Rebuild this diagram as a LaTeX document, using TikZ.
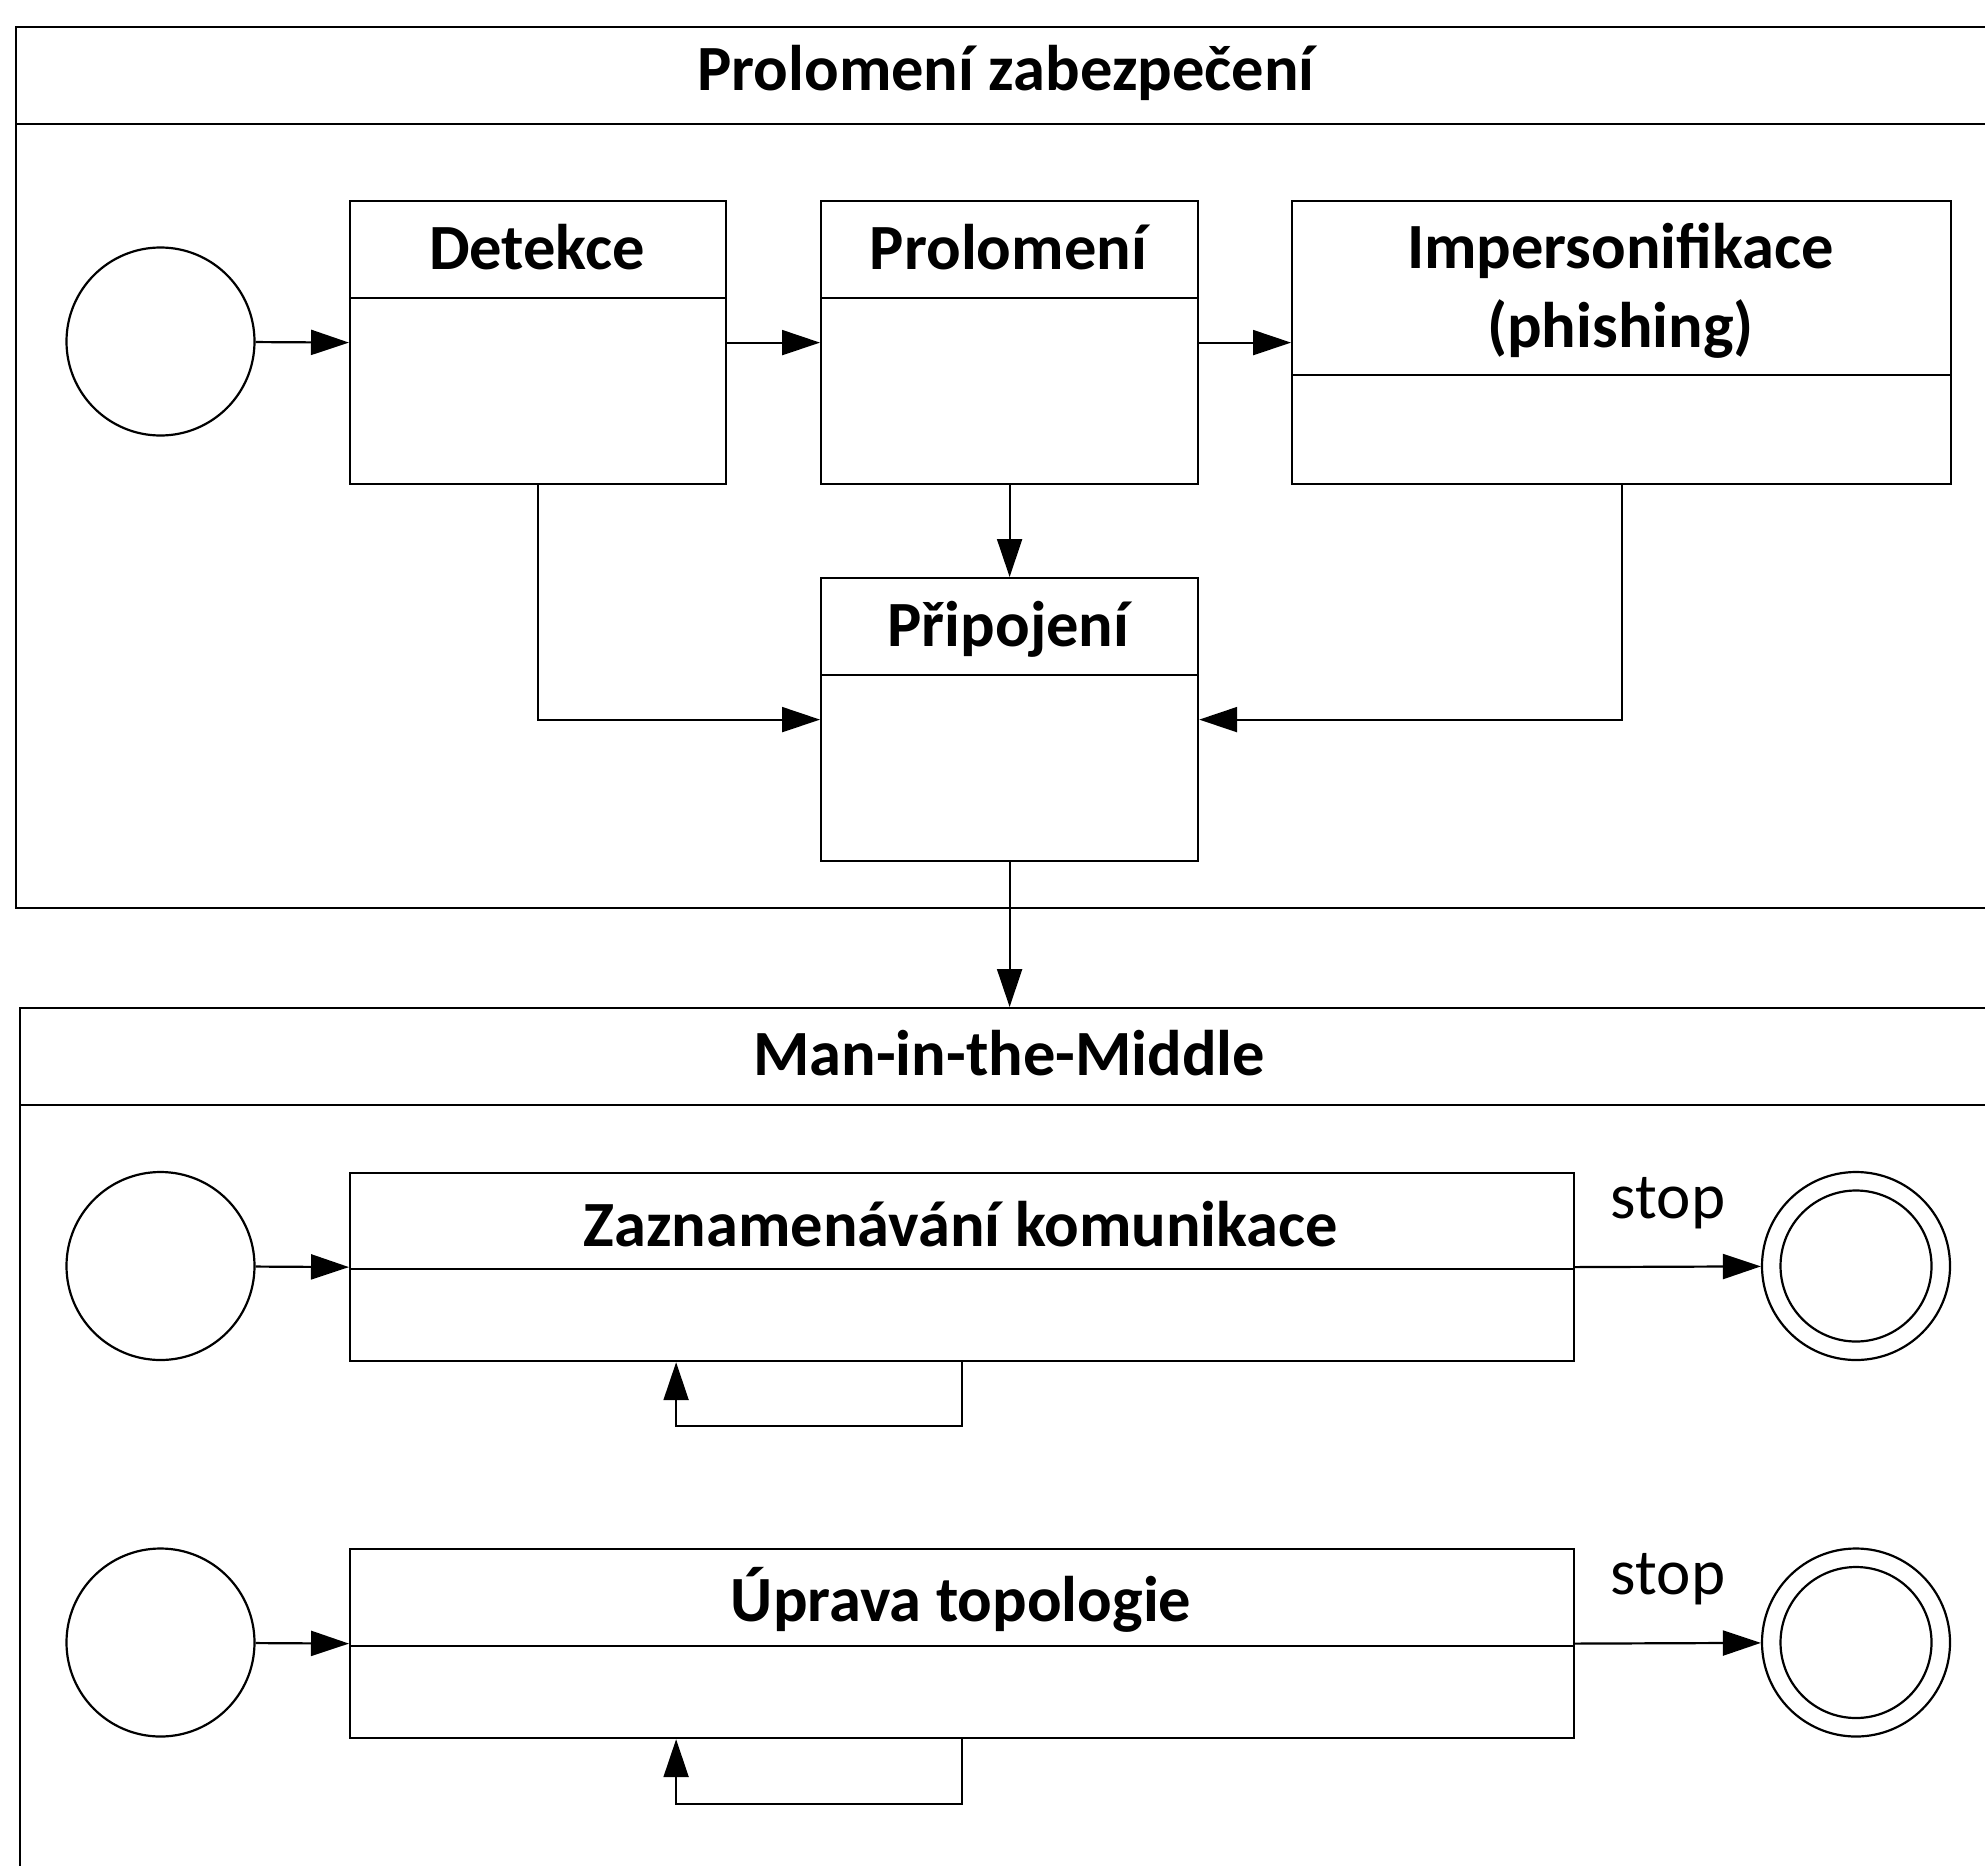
\documentclass[tikz,border=0pt]{standalone}
\usepackage{fontspec}
\setmainfont{Carlito}
\usetikzlibrary{arrows.meta}
\begin{document}
\begin{tikzpicture}[x=1pt,y=-1pt,
  line width=2.2pt,
  arr/.style={-{Triangle[length=38pt,width=25pt]}},
  frame/.style={draw, rectangle, anchor=north west, inner sep=0pt},
  state/.style={draw, circle, minimum size=188pt, inner sep=0pt},
  head/.style={anchor=base, inner sep=0pt, font=\bfseries\fontsize{64.5}{77}\selectfont},
  lbl/.style={anchor=base, inner sep=0pt, font=\fontsize{65}{78}\selectfont}
]
\path[use as bounding box, clip] (0,0) rectangle (1985,1865);

% ---------- upper lane: security breach ----------
\node[frame, minimum width=1983pt, minimum height=881pt] (lane1) at (15,26) {};
\draw (15,124) -- (1998,124);
\node[head] (lane1-t) at (1006,91) {Prolomení zabezpečení};

\node[state] (s1) at (160.5,341.5) {};

\node[frame, minimum width=376pt, minimum height=283pt] (det) at (349,200) {};
\draw (349,298) -- (725,298);
\node[head] (det-t) at (537,269) {Detekce};

\node[frame, minimum width=377pt, minimum height=283pt] (pro) at (820,200) {};
\draw (820,298) -- (1197,298);
\node[head] (pro-t) at (1008.5,269) {Prolomení};

\node[frame, minimum width=659pt, minimum height=283pt] (imp) at (1291,200) {};
\draw (1291,375) -- (1950,375);
\node[head] (imp-t1) at (1620.5,268) {Impersonifikace};
\node[head] (imp-t2) at (1620.5,347) {(phishing)};

\node[frame, minimum width=377pt, minimum height=283pt] (pri) at (820,577) {};
\draw (820,675) -- (1197,675);
\node[head] (pri-t) at (1008.5,646) {Připojení};

\draw[arr] (s1) -- (det.west);
\draw[arr] (det.east) -- (pro.west);
\draw[arr] (pro.east) -- (imp.west);
\draw[arr] (pro.south) -- (pri.north);
\draw[arr] (det.south) |- (pri.west);
\draw[arr] (imp.south) |- (pri.east);

% ---------- lower lane: man-in-the-middle ----------
\node[frame, minimum width=1980pt, minimum height=900pt] (lane2) at (19,1007) {};
\draw (19,1105) -- (1999,1105);
\node[head] (lane2-t) at (1009,1075) {Man-in-the-Middle};

\draw[arr] (pri.south) -- (pri.south |- lane2.north);

% recording branch
\node[state] (s2) at (160.5,1266) {};
\node[frame, minimum width=1224pt, minimum height=188pt] (zaz) at (349,1172) {};
\draw (349,1269) -- (1573,1269);
\node[head] (zaz-t) at (961,1246) {Zaznamenávání komunikace};
\node[state] (e2) at (1856,1266) {};
\draw (e2.center) circle[radius=75.5pt];
\node[lbl] (stop2) at (1668,1218) {stop};
\draw[arr] (s2) -- (zaz.west);
\draw[arr] (zaz.east) -- (e2);
\draw[arr] (zaz.south) -- ++(0,64) -| ([xshift=-286pt]zaz.south);

% topology branch
\node[state] (s3) at (160.5,1642.5) {};
\node[frame, minimum width=1224pt, minimum height=189pt] (upr) at (349,1548) {};
\draw (349,1646) -- (1573,1646);
\node[head] (upr-t) at (961,1621) {Úprava topologie};
\node[state] (e3) at (1856,1642.5) {};
\draw (e3.center) circle[radius=75.5pt];
\node[lbl] (stop3) at (1668,1594) {stop};
\draw[arr] (s3) -- (upr.west);
\draw[arr] (upr.east) -- (e3);
\draw[arr] (upr.south) -- ++(0,65) -| ([xshift=-286pt]upr.south);
\end{tikzpicture}
\end{document}
